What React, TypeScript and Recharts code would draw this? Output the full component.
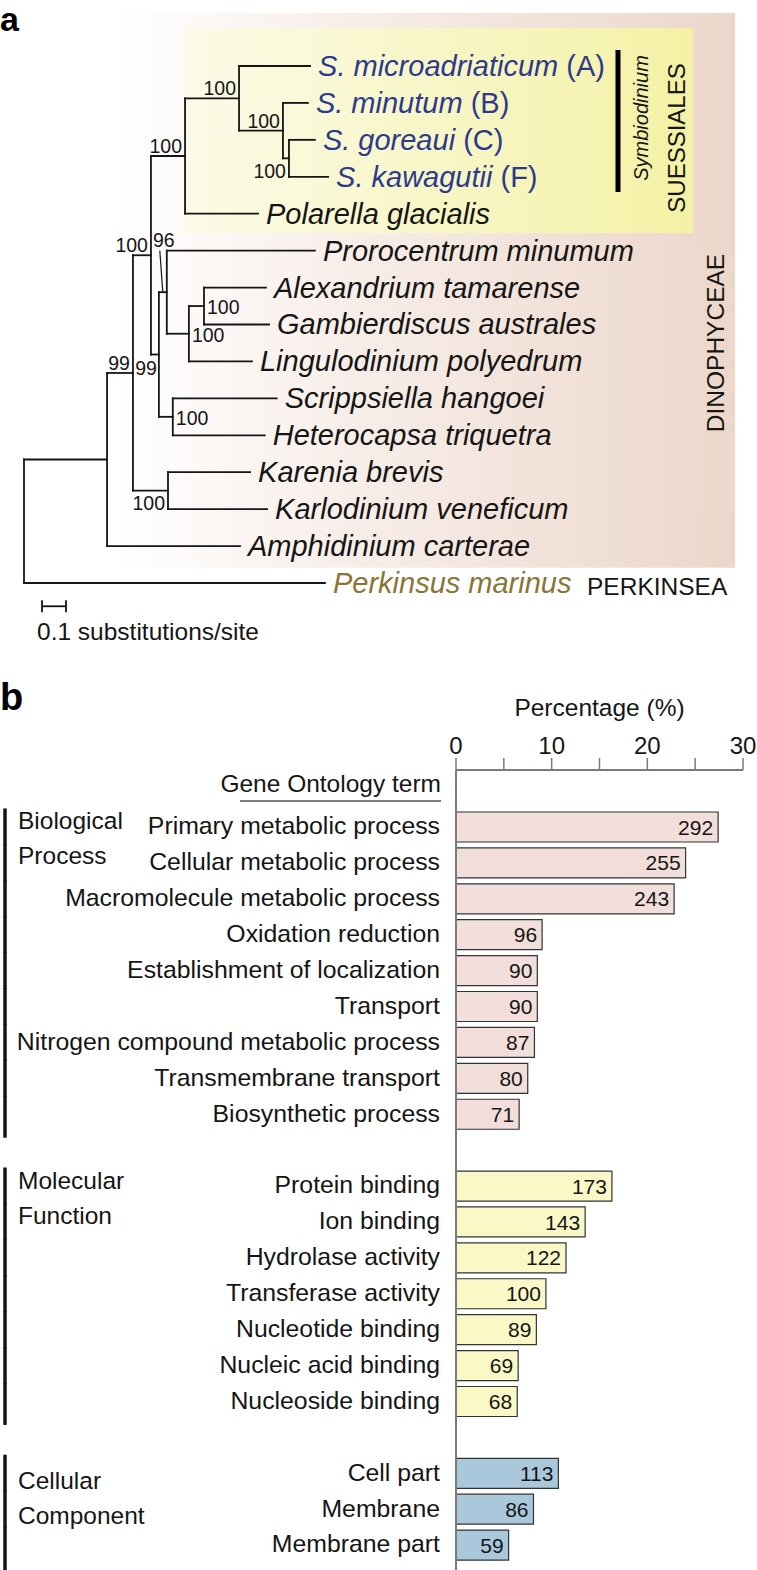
import React from 'react';
import {
  ScatterChart, Scatter, XAxis, YAxis, ReferenceLine, ReferenceArea,
  BarChart, Bar, Cell, LabelList,
} from 'recharts';

const FONT = '"Liberation Sans", Arial, Helvetica, sans-serif';
const INK = '#151515';

// ---------------- Panel a : phylogeny ----------------
// nodes in pre-order (children listed top to bottom), parent and branch length (substitutions/site)
const treeIds = [
  'root', 'n1', 'n2', 'n3', 'nSues', 'nS1', 'S. microadriaticum', 'nS2', 'S. minutum', 'nS3',
  'S. goreaui', 'S. kawagutii', 'Polarella glacialis', 'n4', 'n5', 'Prorocentrum minumum', 'n6', 'n7',
  'Alexandrium tamarense', 'Gambierdiscus australes', 'Lingulodinium polyedrum', 'n8',
  'Scrippsiella hangoei', 'Heterocapsa triquetra', 'nKK', 'Karenia brevis', 'Karlodinium veneficum',
  'Amphidinium carterae', 'Perkinsus marinus',
];
const treeParents = [
  null, 'root', 'n1', 'n2', 'n3', 'nSues', 'nS1', 'nS1', 'nS2', 'nS2',
  'nS3', 'nS3', 'nSues', 'n3', 'n4', 'n5', 'n5', 'n6',
  'n7', 'n7', 'n6', 'n4',
  'n8', 'n8', 'n2', 'nKK', 'nKK',
  'n1', 'root',
];
const branchLengths = [
  0, 0.346, 0.108, 0.075, 0.142, 0.225, 0.296, 0.183, 0.104, 0.025,
  0.108, 0.163, 0.304, 0.033, 0.033, 0.617, 0.092, 0.063,
  0.258, 0.271, 0.263, 0.058,
  0.433, 0.383, 0.146, 0.342, 0.413,
  0.554, 1.254,
];
const supportNodes = ['n3', 'nSues', 'nS1', 'nS2', 'nS3', 'n2', 'n4', 'n5', 'n6', 'n7', 'n8', 'nKK'];
const supportValues = [100, 100, 100, 100, 100, 99, 99, 96, 100, 100, 100, 100];
const symbiodiniumTaxa = ['S. microadriaticum', 'S. minutum', 'S. goreaui', 'S. kawagutii'];
const symbiodiniumClades = ['(A)', '(B)', '(C)', '(F)'];
const outgroupTaxa = ['Perkinsus marinus'];
const scaleBarLength = 0.1;

// label placement (style only)
const supportPlace: Record<string, string> = {
  n3: 'above', nSues: 'above', nS1: 'above', nS2: 'above', nS3: 'lowerLeft', n2: 'above',
  n4: 'below', n5: 'pointer', n6: 'right', n7: 'right', n8: 'right', nKK: 'lowerLeft',
};

type TNode = { id: string; parent: string | null; len: number; x: number; y: number; children: string[] };

function layoutTree() {
  const nodes: Record<string, TNode> = {};
  treeIds.forEach((id, i) => {
    nodes[id] = { id, parent: treeParents[i], len: branchLengths[i], x: 0, y: 0, children: [] };
  });
  treeIds.forEach((id) => {
    const p = nodes[id].parent;
    if (p) nodes[p].children.push(id);
  });
  let leafRow = 0;
  treeIds.forEach((id) => {
    const n = nodes[id];
    n.x = n.parent ? nodes[n.parent].x + n.len : 0;
    if (n.children.length === 0) n.y = leafRow++;
  });
  for (let i = treeIds.length - 1; i >= 0; i--) {
    const n = nodes[treeIds[i]];
    if (n.children.length) {
      n.y = (nodes[n.children[0]].y + nodes[n.children[n.children.length - 1]].y) / 2;
    }
  }
  return nodes;
}

const TREE = layoutTree();
const TREE_W = 757;
const TREE_H = 660;
const X_DOMAIN: [number, number] = [-0.1, 3.0542];
const Y_DOMAIN: [number, number] = [-1.787, 16.085];
const DX = (X_DOMAIN[1] - X_DOMAIN[0]) / TREE_W; // data units per pixel

const treeSegments: { x1: number; y1: number; x2: number; y2: number }[] = [];
treeIds.forEach((id) => {
  const n = TREE[id];
  if (n.parent) treeSegments.push({ x1: TREE[n.parent].x, y1: n.y, x2: n.x, y2: n.y });
  if (n.children.length) {
    treeSegments.push({
      x1: n.x, y1: TREE[n.children[0]].y, x2: n.x, y2: TREE[n.children[n.children.length - 1]].y,
    });
  }
});

const leafData = treeIds
  .filter((id) => TREE[id].children.length === 0)
  .map((id) => {
    const si = symbiodiniumTaxa.indexOf(id);
    return {
      x: TREE[id].x, y: TREE[id].y, name: id,
      tag: si >= 0 ? symbiodiniumClades[si] : '',
      kind: si >= 0 ? 'sym' : outgroupTaxa.includes(id) ? 'out' : 'in',
    };
  });

const supportData = supportNodes.map((id, i) => {
  const n = TREE[id];
  const place = supportPlace[id];
  const first = TREE[n.children[0]];
  const last = TREE[n.children[n.children.length - 1]];
  const y = place === 'lowerLeft' ? last.y : place === 'pointer' ? first.y : n.y;
  return { x: n.x, y, value: supportValues[i], place };
});

const n5 = TREE['n5'];
const pointerSeg = { x1: n5.x - 7 * DX, y1: TREE[n5.children[0]].y, x2: n5.x - 4 * DX, y2: n5.y };

const LeafLabel = (props: any) => {
  const { cx, cy, payload } = props;
  const color = payload.kind === 'sym' ? '#2d3a8c' : payload.kind === 'out' ? '#8a7535' : INK;
  return (
    <text x={cx + 8} y={cy + 10} fontFamily={FONT} fontSize={29} fill={color}>
      <tspan fontStyle="italic">{payload.name}</tspan>
      {payload.tag ? <tspan>{' ' + payload.tag}</tspan> : null}
    </text>
  );
};

const SupportLabel = (props: any) => {
  const { cx, cy, payload } = props;
  const p = payload.place;
  let x = cx - 3;
  let y = cy - 3;
  let anchor = 'end';
  if (p === 'right') { x = cx + 3; y = cy + 8; anchor = 'start'; }
  else if (p === 'lowerLeft') { x = cx - 3; y = cy + 1; }
  else if (p === 'below') { x = cx - 2; y = cy + 20; }
  else if (p === 'pointer') { x = cx - 3; y = cy - 4; anchor = 'middle'; }
  return (
    <text x={x} y={y} textAnchor={anchor} fontFamily={FONT} fontSize={19.5} fill={INK}>
      {payload.value}
    </text>
  );
};

// ---------------- Panel b : GO bar chart ----------------
const bpTerms = [
  'Primary metabolic process', 'Cellular metabolic process', 'Macromolecule metabolic process',
  'Oxidation reduction', 'Establishment of localization', 'Transport',
  'Nitrogen compound metabolic process', 'Transmembrane transport', 'Biosynthetic process',
];
const bpPercent = [27.4, 24.0, 22.8, 9.0, 8.5, 8.5, 8.2, 7.5, 6.6];
const bpCounts = [292, 255, 243, 96, 90, 90, 87, 80, 71];

const mfTerms = [
  'Protein binding', 'Ion binding', 'Hydrolase activity', 'Transferase activity',
  'Nucleotide binding', 'Nucleic acid binding', 'Nucleoside binding',
];
const mfPercent = [16.3, 13.5, 11.5, 9.4, 8.4, 6.5, 6.4];
const mfCounts = [173, 143, 122, 100, 89, 69, 68];

const ccTerms = ['Cell part', 'Membrane', 'Membrane part'];
const ccPercent = [10.7, 8.1, 5.5];
const ccCounts = [113, 86, 59];

const groupNames = [['Biological', 'Process'], ['Molecular', 'Function'], ['Cellular', 'Component']];
const percentTicks = [0, 5, 10, 15, 20, 25, 30];

const groupFill = ['#f2dedb', '#fbf8c8', '#aac8dc'];
const groupLabelOffset = [2, 3, 16];

type Row = { term: string; pct: number | null; count: number | null; group: number; first: boolean; last: boolean };
const rows: Row[] = [];
const addGroup = (terms: string[], pct: number[], counts: number[], g: number) => {
  terms.forEach((t, i) => rows.push({
    term: t, pct: pct[i], count: counts[i], group: g, first: i === 0, last: i === terms.length - 1,
  }));
};
addGroup(bpTerms, bpPercent, bpCounts, 0);
rows.push({ term: ' ', pct: null, count: null, group: -1, first: false, last: false });
addGroup(mfTerms, mfPercent, mfCounts, 1);
rows.push({ term: '  ', pct: null, count: null, group: -1, first: false, last: false });
addGroup(ccTerms, ccPercent, ccCounts, 2);
const rowByTerm: Record<string, Row> = {};
rows.forEach((r) => { rowByTerm[r.term] = r; });

const TermTick = (props: any) => {
  const { x, y, payload } = props;
  const row = rowByTerm[payload.value];
  if (!row || row.group < 0) return <g />;
  const bottomExtra = row.last ? (row.group === 2 ? 26 : 5) : 0;
  const gy = y + groupLabelOffset[row.group];
  return (
    <g>
      <line x1={5} x2={5} y1={y - 18.5} y2={y + 18.5 + bottomExtra} stroke={INK} strokeWidth={3.5} />
      {row.first ? (
        <text x={18} y={gy} fontFamily={FONT} fontSize={24.5} fill={INK}>
          <tspan x={18} y={gy}>{groupNames[row.group][0]}</tspan>
          <tspan x={18} y={gy + 35}>{groupNames[row.group][1]}</tspan>
        </text>
      ) : null}
      <text x={x} y={y} dy="0.3em" textAnchor="end" fontFamily={FONT} fontSize={24.8} fill={INK}>
        {row.term}
      </text>
    </g>
  );
};

const CountLabel = (props: any) => {
  const { x, y, width, height, value } = props;
  if (value === null || value === undefined || !width) return null;
  return (
    <text x={x + width - 5} y={y + height / 2} dy="0.36em" textAnchor="end"
      fontFamily={FONT} fontSize={21} fill={INK}>
      {value}
    </text>
  );
};

export default function App() {
  return (
    <div style={{ position: 'absolute', left: 0, top: 0, width: 757, height: 1570, background: '#fff', fontFamily: FONT }}>
      <svg width={0} height={0} style={{ position: 'absolute' }}>
        <defs>
          <linearGradient id="dinoGrad" x1="0" y1="0" x2="1" y2="0">
            <stop offset="0%" stopColor="#ffffff" />
            <stop offset="35%" stopColor="#f8efea" />
            <stop offset="100%" stopColor="#ecd7ca" />
          </linearGradient>
          <linearGradient id="suesGrad" x1="0" y1="0" x2="1" y2="0">
            <stop offset="0%" stopColor="#fbfbe8" />
            <stop offset="100%" stopColor="#f4f1a4" />
          </linearGradient>
        </defs>
      </svg>

      {/* Panel a */}
      <div style={{ position: 'absolute', left: 0, top: 0 }}>
        <ScatterChart width={TREE_W} height={TREE_H} margin={{ top: 0, right: 0, bottom: 0, left: 0 }}>
          <XAxis type="number" dataKey="x" domain={X_DOMAIN} allowDataOverflow hide />
          <YAxis type="number" dataKey="y" domain={Y_DOMAIN} allowDataOverflow reversed hide />
          <ReferenceArea x1={0.3875} x2={2.9625} y1={-1.435} y2={13.59}
            fill="url(#dinoGrad)" fillOpacity={1} stroke="none" ifOverflow="visible" />
          <ReferenceArea x1={0.6625} x2={2.7875} y1={-1.029} y2={4.522}
            fill="url(#suesGrad)" fillOpacity={1} stroke="none" ifOverflow="visible" />
          {treeSegments.map((s, i) => (
            <ReferenceLine key={'seg' + i} segment={[{ x: s.x1, y: s.y1 }, { x: s.x2, y: s.y2 }]}
              stroke={INK} strokeWidth={1.8} strokeLinecap="square" ifOverflow="visible" />
          ))}
          <ReferenceLine segment={[{ x: pointerSeg.x1, y: pointerSeg.y1 }, { x: pointerSeg.x2, y: pointerSeg.y2 }]}
            stroke={INK} strokeWidth={1.2} ifOverflow="visible" />
          {/* Symbiodinium bar */}
          <ReferenceLine segment={[{ x: 2.475, y: -0.43 }, { x: 2.475, y: 3.41 }]}
            stroke="#000" strokeWidth={5} ifOverflow="visible" />
          {/* scale bar */}
          <ReferenceLine segment={[{ x: 0.075, y: 14.63 }, { x: 0.075 + scaleBarLength, y: 14.63 }]}
            stroke={INK} strokeWidth={1.8} ifOverflow="visible" />
          <ReferenceLine segment={[{ x: 0.075, y: 14.47 }, { x: 0.075, y: 14.79 }]}
            stroke={INK} strokeWidth={1.8} ifOverflow="visible" />
          <ReferenceLine segment={[{ x: 0.075 + scaleBarLength, y: 14.47 }, { x: 0.075 + scaleBarLength, y: 14.79 }]}
            stroke={INK} strokeWidth={1.8} ifOverflow="visible" />
          <Scatter data={leafData} shape={LeafLabel} isAnimationActive={false} />
          <Scatter data={supportData} shape={SupportLabel} isAnimationActive={false} />
        </ScatterChart>
      </div>

      {/* Panel b */}
      <div style={{ position: 'absolute', left: 0, top: 680 }}>
        <BarChart width={757} height={890} data={rows} layout="vertical"
          margin={{ top: 40, right: 14, bottom: 0, left: 0 }}>
          <XAxis type="number" orientation="top" domain={[0, 30]} ticks={percentTicks}
            tickFormatter={(v: number) => (v % 10 === 0 ? String(v) : '')}
            tickSize={12} tickMargin={4} height={50}
            axisLine={{ stroke: '#7a7a7a', strokeWidth: 2 }}
            tickLine={{ stroke: '#7a7a7a', strokeWidth: 1.5 }}
            tick={{ fontSize: 24, fill: INK, fontFamily: FONT }}
            label={{ value: 'Percentage (%)', position: 'top', offset: 4, fontSize: 24.5, fill: INK, fontFamily: FONT }}
          />
          <YAxis type="category" dataKey="term" width={456} interval={0}
            tick={<TermTick />} tickLine={false} tickSize={0} tickMargin={16}
            axisLine={{ stroke: '#7a7a7a', strokeWidth: 2 }}
            padding={{ top: 39, bottom: 7 }} />
          <Bar dataKey="pct" barSize={30} stroke="#333" strokeWidth={1.2} isAnimationActive={false}>
            {rows.map((r, i) => (
              <Cell key={'c' + i} fill={r.group >= 0 ? groupFill[r.group] : 'none'} />
            ))}
            <LabelList dataKey="count" content={CountLabel} />
          </Bar>
        </BarChart>
      </div>

      {/* annotations */}
      <svg width={757} height={1570} style={{ position: 'absolute', left: 0, top: 0, pointerEvents: 'none' }}>
        <text x={0} y={31} fontFamily={FONT} fontWeight="bold" fontSize={34} fill="#000">a</text>
        <text transform="translate(648,118) rotate(-90)" textAnchor="middle" fontFamily={FONT}
          fontStyle="italic" fontSize={20} fill={INK}>Symbiodinium</text>
        <text transform="translate(685,138) rotate(-90)" textAnchor="middle" fontFamily={FONT}
          fontSize={24} fill={INK}>SUESSIALES</text>
        <text transform="translate(724,343) rotate(-90)" textAnchor="middle" fontFamily={FONT}
          fontSize={24.5} fill={INK}>DINOPHYCEAE</text>
        <text x={587} y={595} fontFamily={FONT} fontSize={24.5} fill={INK}>PERKINSEA</text>
        <text x={37} y={640} fontFamily={FONT} fontSize={24.5} fill={INK}>0.1 substitutions/site</text>

        <text x={0} y={710} fontFamily={FONT} fontWeight="bold" fontSize={38} fill="#000">b</text>
        <text x={441} y={792} textAnchor="end" fontFamily={FONT} fontSize={24.5} fill={INK}>Gene Ontology term</text>
        <line x1={240} x2={441} y1={801} y2={801} stroke="#555" strokeWidth={1.5} />
      </svg>
    </div>
  );
}
